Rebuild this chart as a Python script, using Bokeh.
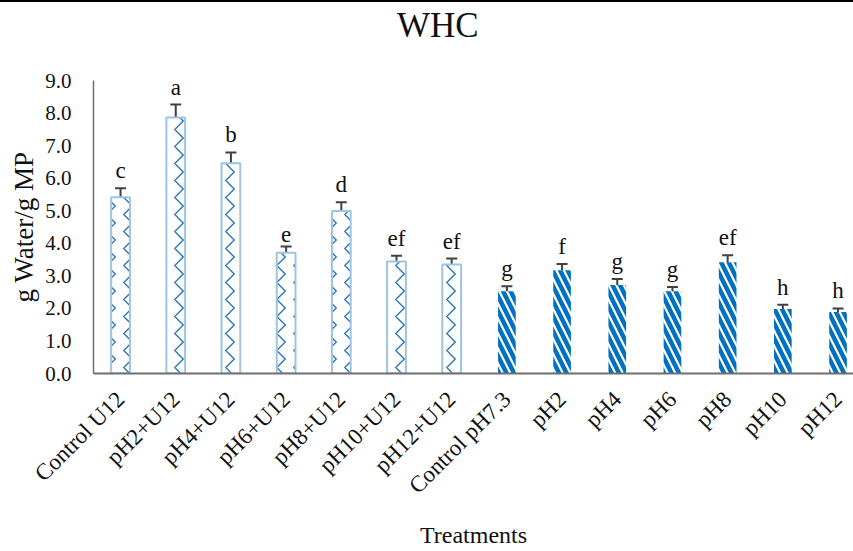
import math
from bokeh.plotting import figure
from bokeh.layouts import column
from bokeh.models import Range1d, FixedTicker, Whisker, ColumnDataSource, TeeHead, NumeralTickFormatter, Div
from bokeh.core.properties import value
from bokeh.embed import file_html
from bokeh.resources import INLINE

# ---- data ----
categories = ["Control U12", "pH2+U12", "pH4+U12", "pH6+U12", "pH8+U12", "pH10+U12", "pH12+U12",
              "Control pH7.3", "pH2", "pH4", "pH6", "pH8", "pH10", "pH12"]
whc = [5.41, 7.86, 6.46, 3.71, 4.99, 3.44, 3.35, 2.53, 3.17, 2.72, 2.53, 3.42, 1.98, 1.89]
sd = [0.28, 0.40, 0.33, 0.19, 0.27, 0.18, 0.18, 0.15, 0.19, 0.18, 0.13, 0.21, 0.13, 0.11]
letters = ["c", "a", "b", "e", "d", "ef", "ef", "g", "f", "g", "g", "ef", "h", "h"]
n_u12 = 7
y_ticks = [0, 1, 2, 3, 4, 5, 6, 7, 8, 9]
title_text = "WHC"

SERIF = "Liberation Serif"

xs = list(range(len(categories)))
upper = [v + e for v, e in zip(whc, sd)]
lower = [v - e for v, e in zip(whc, sd)]

src_a = ColumnDataSource(dict(x=xs[:n_u12], top=whc[:n_u12]))
src_b = ColumnDataSource(dict(x=xs[n_u12:], top=whc[n_u12:]))
src_e = ColumnDataSource(dict(x=xs, upper=upper, lower=lower, lab=letters))

TITLE_H = 44
header = Div(
    text=('<div style="font-family:\'Liberation Serif\';font-size:35px;line-height:35px;'
          'color:#111;margin-left:397px;margin-top:6px;">' + title_text + '</div>'),
    width=853, height=TITLE_H,
    styles={"margin": "0", "padding": "0", "overflow": "hidden",
            "border-top": "2px solid #000", "box-sizing": "border-box"})

p = figure(width=853, height=551 - TITLE_H, output_backend="svg", toolbar_location=None,
           x_range=Range1d(-0.49, 13.28), y_range=Range1d(0, 9),
           min_border_left=93, min_border_right=0, min_border_top=80 - TITLE_H,
           min_border_bottom=175)

p.outline_line_color = None
p.xgrid.grid_line_color = None
p.ygrid.grid_line_color = None
p.background_fill_color = "white"
p.border_fill_color = "white"

p.vbar(x="x", top="top", width=0.34, source=src_a, fill_color="white",
       line_color="#9DC3E6", line_width=2, hatch_pattern="vertical_wave",
       hatch_color="#2E75B6", hatch_scale=17, hatch_weight=1.4)
p.vbar(x="x", top="top", width=0.32, source=src_b, fill_color="white",
       line_color=None, hatch_pattern="left_diagonal_line",
       hatch_color="#0070C0", hatch_scale=15, hatch_weight=4.5)

w = Whisker(base="x", upper="upper", lower="lower", source=src_e,
            line_color="#404040", line_width=2,
            upper_head=TeeHead(size=11, line_color="#404040", line_width=2),
            lower_head=TeeHead(size=11, line_color="#404040", line_width=2))
p.add_layout(w)

p.text(x="x", y="upper", text="lab", source=src_e, text_align="center",
       text_baseline="bottom", y_offset=-5, text_font=value(SERIF),
       text_font_size="23px", text_color="#111111")

# axes
p.yaxis.ticker = FixedTicker(ticks=y_ticks, minor_ticks=[])
p.yaxis.formatter = NumeralTickFormatter(format="0.0")
p.yaxis.axis_label = "g Water/g MP"
p.yaxis.axis_label_text_font = SERIF
p.yaxis.axis_label_text_font_style = "normal"
p.yaxis.axis_label_text_font_size = "27px"
p.yaxis.axis_label_text_color = "#111111"
p.yaxis.axis_label_standoff = 3
p.yaxis.major_label_text_font = SERIF
p.yaxis.major_label_text_font_size = "21px"
p.yaxis.major_label_text_color = "#111111"
p.yaxis.major_label_standoff = 16
p.yaxis.major_tick_line_color = None
p.yaxis.minor_tick_line_color = None
p.yaxis.axis_line_color = "#6f6f6f"
p.yaxis.axis_line_width = 1.5

p.xaxis.ticker = FixedTicker(ticks=xs, minor_ticks=[])
p.xaxis.major_label_overrides = {i: c for i, c in enumerate(categories)}
p.xaxis.major_label_orientation = math.pi / 4
p.xaxis.major_label_text_font = SERIF
p.xaxis.major_label_text_font_size = "23px"
p.xaxis.major_label_text_color = "#111111"
p.xaxis.major_label_standoff = 16
p.xaxis.major_tick_line_color = None
p.xaxis.minor_tick_line_color = None
p.xaxis.axis_line_color = "#6f6f6f"
p.xaxis.axis_line_width = 2
p.xaxis.axis_label = "Treatments"
p.xaxis.axis_label_text_font = SERIF
p.xaxis.axis_label_text_font_style = "normal"
p.xaxis.axis_label_text_font_size = "24px"
p.xaxis.axis_label_text_color = "#111111"
p.xaxis.axis_label_standoff = 12

layout = column(header, p, spacing=0)
open("out.html", "w").write(file_html(layout, INLINE))
